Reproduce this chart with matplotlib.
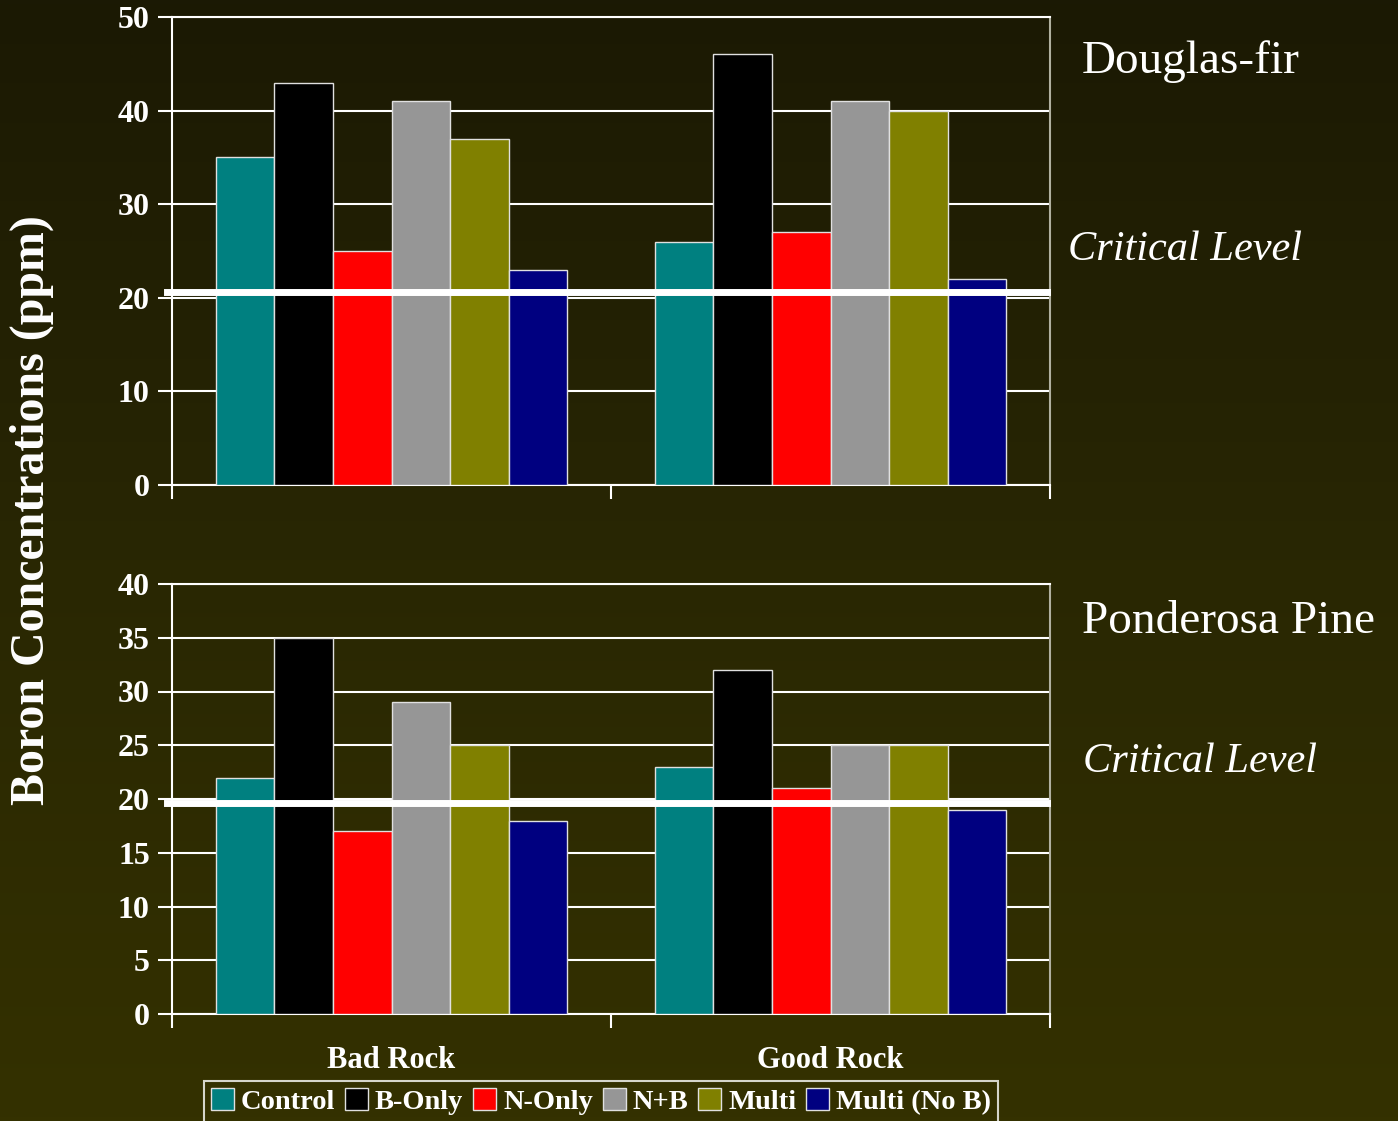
import matplotlib.pyplot as plt
import numpy as np
from matplotlib.colors import LinearSegmentedColormap

W, H = 1398, 1121
DPI = 100

categories = ["Bad Rock", "Good Rock"]
treatments = ["Control", "B-Only", "N-Only", "N+B", "Multi", "Multi (No B)"]
colors = ["#008080", "#000000", "#FF0000", "#969696", "#808000", "#000080"]

# Douglas-fir, per treatment: [Bad Rock, Good Rock]
douglas = [[35, 26], [43, 46], [25, 27], [41, 41], [37, 40], [23, 22]]
# Ponderosa pine
ponderosa = [[22, 23], [35, 32], [17, 21], [29, 25], [25, 25], [18, 19]]

crit_douglas = 20.6
crit_ponderosa = 19.6

serif = ["Liberation Serif", "DejaVu Serif"]
plt.rcParams['font.family'] = serif

fig = plt.figure(figsize=(W / DPI, H / DPI), dpi=DPI)

# background gradient
bg = fig.add_axes([0, 0, 1, 1], zorder=-10)
cmap = LinearSegmentedColormap.from_list("bg", ["#1b1904", "#292703", "#343100"])
bg.imshow(np.linspace(0, 1, 256).reshape(-1, 1), aspect='auto', cmap=cmap,
          extent=[0, 1, 0, 1])
bg.axis('off')


def px_axes(left, top, right, bottom):
    return fig.add_axes([left / W, 1 - bottom / H, (right - left) / W, (bottom - top) / H])


def draw_panel(ax, data, ymax, step, crit, label, label_y, crit_x, crit_y, show_cats):
    ax.set_facecolor('none')
    n = len(treatments)
    bw = 0.8 / n
    x = np.arange(len(categories))
    for i, vals in enumerate(data):
        ax.bar(x - 0.4 + bw * (i + 0.5), vals, bw, color=colors[i],
               edgecolor='#e0e0e0', linewidth=1.0, zorder=3, label=treatments[i])
    ax.set_xlim(-0.5, len(categories) - 0.5)
    ax.set_ylim(0, ymax)
    ax.set_yticks(np.arange(0, ymax + 0.1, step))
    ax.yaxis.grid(True, color='white', linewidth=1.5, zorder=0)
    ax.set_axisbelow(True)
    for s in ['left', 'bottom', 'top']:
        ax.spines[s].set_color('white')
        ax.spines[s].set_linewidth(1.5)
    ax.spines['right'].set_color('#b0b0a0')
    ax.spines['right'].set_linewidth(1.5)
    ax.tick_params(axis='y', colors='white', length=10, width=1.5, pad=6,
                   labelsize=23)
    for t in ax.get_yticklabels():
        t.set_fontweight('bold')
    ax.set_xticks(np.arange(-0.5, len(categories), 1.0), minor=True)
    ax.tick_params(axis='x', which='minor', colors='white', length=10, width=1.5)
    ax.set_xticks(x)
    if show_cats:
        ax.set_xticklabels(categories, fontsize=22, fontweight='bold', color='white')
        ax.tick_params(axis='x', which='major', length=0, pad=23)
    else:
        ax.set_xticklabels([])
        ax.tick_params(axis='x', which='major', length=0)
    ax.axhline(crit, xmin=-5 / 878, xmax=875 / 878, color='white', linewidth=5,
               clip_on=False, zorder=5)
    fig.text(1082 / W, 1 - label_y / H, label, color='white', fontsize=34,
             ha='left', va='center')
    fig.text(crit_x / W, 1 - crit_y / H, "Critical Level", color='white',
             fontsize=30.5, style='italic', ha='left', va='center')


ax1 = px_axes(172, 17, 1050, 485)
draw_panel(ax1, douglas, 50, 10, crit_douglas, "Douglas-fir", 62, 1068, 250, False)

ax2 = px_axes(172, 584, 1050, 1014)
draw_panel(ax2, ponderosa, 40, 5, crit_ponderosa, "Ponderosa Pine", 622, 1083, 762, True)

fig.text(32 / W, 1 - 510 / H, "Boron Concentrations (ppm)", color='white',
         fontsize=34.5, fontweight='bold', rotation=90, ha='center', va='center')

handles, labels = ax1.get_legend_handles_labels()
leg = fig.legend(handles, labels, loc='upper center', ncol=6,
                 bbox_to_anchor=(601 / W, 1 - 1081 / H),
                 prop={'size': 20.5, 'weight': 'bold', 'family': serif},
                 frameon=True, fancybox=False, edgecolor='white', facecolor='none',
                 handlelength=0.8, handleheight=0.8, handletextpad=0.25,
                 columnspacing=0.35, borderpad=0.25, borderaxespad=0)
leg.get_frame().set_linewidth(1.5)
for t in leg.get_texts():
    t.set_color('white')

fig.savefig("out.png", dpi=DPI)
